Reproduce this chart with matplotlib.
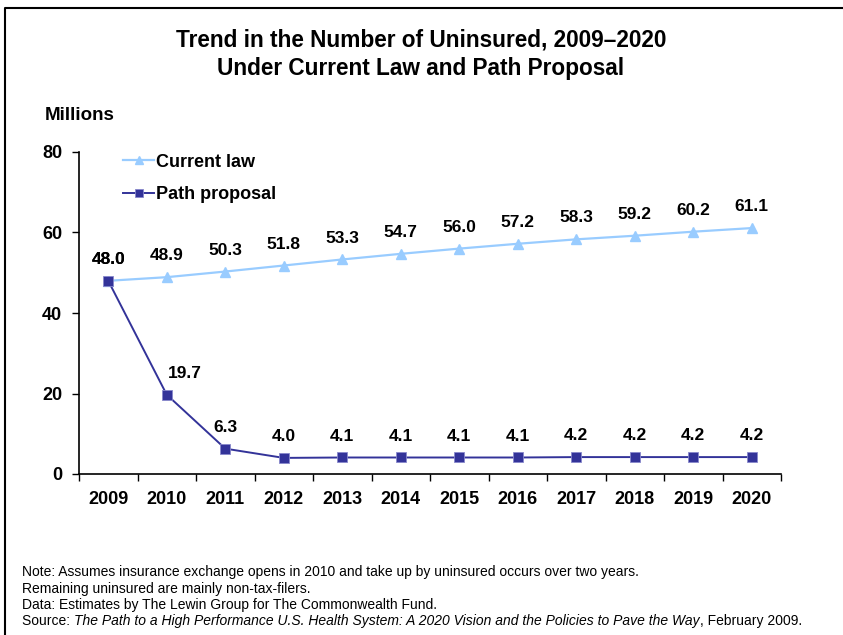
import matplotlib
matplotlib.use("Agg")
import matplotlib.pyplot as plt
from matplotlib.lines import Line2D
import numpy as np

plt.rcParams['font.family'] = ['Liberation Sans', 'DejaVu Sans']

years = ['2009', '2010', '2011', '2012', '2013', '2014', '2015', '2016', '2017', '2018', '2019', '2020']
current_law = [48.0, 48.9, 50.3, 51.8, 53.3, 54.7, 56.0, 57.2, 58.3, 59.2, 60.2, 61.1]
path_proposal = [48.0, 19.7, 6.3, 4.0, 4.1, 4.1, 4.1, 4.1, 4.2, 4.2, 4.2, 4.2]

notes = [
    "Note: Assumes insurance exchange opens in 2010 and take up by uninsured occurs over two years.",
    "Remaining uninsured are mainly non-tax-filers.",
    "Data: Estimates by The Lewin Group for The Commonwealth Fund.",
]

W, H = 843, 635
fig = plt.figure(figsize=(W / 100, H / 100), dpi=100)
ax = fig.add_axes([79 / W, 1 - 474 / H, (781 - 79) / W, (474 - 152) / H])

x = np.arange(len(years))
ax.plot(x, current_law, color='#99CCFF', lw=1.6, marker='^', ms=7,
        mfc='#99CCFF', mec='#99CCFF', label='Current law', clip_on=False, zorder=3)
ax.plot(x, path_proposal, color='#333399', lw=1.4, marker='s', ms=7,
        mfc='#333399', mec='#8888cc', mew=0.6, label='Path proposal', clip_on=False, zorder=4)

for i, v in enumerate(current_law):
    ax.annotate(f"{v:.1f}", (i, v), xytext=(0, 10), textcoords='offset points',
                ha='center', va='bottom', fontsize=12.5, fontweight='bold')
for i, v in enumerate(path_proposal):
    dx = 13 if i == 1 else 0
    ax.annotate(f"{v:.1f}", (i, v), xytext=(dx, 10), textcoords='offset points',
                ha='center', va='bottom', fontsize=12.5, fontweight='bold')

ax.set_xlim(-0.5, len(years) - 0.5)
ax.set_ylim(0, 80)
ax.set_yticks([0, 20, 40, 60, 80])
ax.set_xticks(x)
ax.set_xticklabels(years)
ax.set_xticks(np.arange(-0.5, len(years)), minor=True)
ax.tick_params(axis='x', which='major', length=0, pad=12, labelsize=13)
ax.tick_params(axis='x', which='minor', length=5, width=1, direction='out')
ax.tick_params(axis='y', length=5, width=1, direction='out', pad=7, labelsize=13)
for lab in ax.get_xticklabels() + ax.get_yticklabels():
    lab.set_fontweight('bold')
ax.spines['top'].set_visible(False)
ax.spines['right'].set_visible(False)
ax.spines['left'].set_linewidth(1.2)
ax.spines['bottom'].set_linewidth(1.2)

leg = ax.legend(loc='upper left', bbox_to_anchor=(0.04, 1.045), frameon=False,
                prop={'weight': 'bold', 'size': 13}, handlelength=1.7,
                handletextpad=0.1, labelspacing=0.85, markerscale=0.8)

fig.text(421 / W, 1 - 40 / H, "Trend in the Number of Uninsured, 2009\u20132020",
         ha='center', va='center', fontsize=16.3, fontweight='bold')
fig.text(421 / W, 1 - 68 / H, "Under Current Law and Path Proposal",
         ha='center', va='center', fontsize=16.3, fontweight='bold')
fig.text(45 / W, 1 - 115 / H, "Millions", ha='left', va='center',
         fontsize=13.5, fontweight='bold')

ys = [572, 589, 605]
for yy, t in zip(ys, notes):
    fig.text(22 / W, 1 - yy / H, t, ha='left', va='center', fontsize=10)
src = fig.text(22 / W, 1 - 621 / H, "Source: ", ha='left', va='center', fontsize=10)
fig.canvas.draw()
r = fig.canvas.get_renderer()
bb = src.get_window_extent(r)
t2 = fig.text(bb.x1 / W, 1 - 621 / H,
              "The Path to a High Performance U.S. Health System: A 2020 Vision and the Policies to Pave the Way",
              ha='left', va='center', fontsize=10, style='italic')
bb2 = t2.get_window_extent(r)
fig.text(bb2.x1 / W, 1 - 621 / H, ", February 2009.", ha='left', va='center', fontsize=10)

# frame around the slide
fig.add_artist(Line2D([5 / W, 5 / W, 1], [0, 1 - 8 / H, 1 - 8 / H],
                      transform=fig.transFigure, color='black', lw=1.5))

fig.savefig("out.png", dpi=100)
